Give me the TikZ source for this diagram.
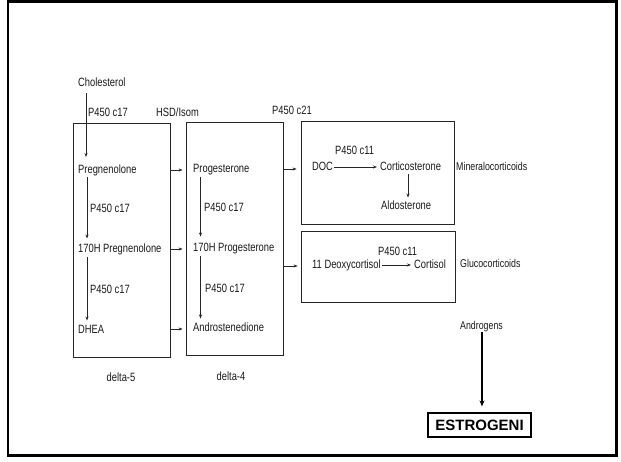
\documentclass[tikz,border=0pt]{standalone}
\usepackage{fontspec}
\setmainfont{Liberation Sans}[FakeStretch=0.78]
\newfontfamily\estrfont{Liberation Sans}
\usetikzlibrary{arrows.meta}
\tikzset{
  lbl/.style={anchor=west, inner sep=0pt, font=\fontsize{12}{13}\selectfont, text=black!90, text height=8.5pt, text depth=2pt},
  smalllbl/.style={lbl, font=\fontsize{11.3}{13}\selectfont},
  grp/.style={draw=black!85, line width=0.8pt, inner sep=0pt, fill=none},
  arr/.style={draw=black!85, line width=0.7pt, -{Stealth[length=4pt,width=3pt]}},
  bigarr/.style={draw=black, line width=1.6pt, -{Stealth[length=6pt,width=5pt]}},
}
\begin{document}
\begin{tikzpicture}[x=1pt,y=-1pt]
\useasboundingbox (0,0) rectangle (621,461);
\draw[line width=2.2pt] (8,1.5) rectangle (616.5,455.5);

% group boxes
\node[grp, minimum width=97pt, minimum height=234pt] (d5) at (121.5,240) {};
\node[grp, minimum width=97pt, minimum height=233pt] (d4) at (234.5,238.5) {};
\node[grp, minimum width=153pt, minimum height=103pt] (mb) at (377.5,172.5) {};
\node[grp, minimum width=154pt, minimum height=71pt] (gb) at (378,266.5) {};

% labels
\node[lbl] (chol) at (78,83) {Cholesterol};
\node[lbl] (e1) at (88,113) {P450 c17};
\node[lbl] (hsd) at (156,113) {HSD/Isom};
\node[lbl] (c21) at (272,111) {P450 c21};

\node[lbl] (preg) at (78,170) {Pregnenolone};
\node[lbl] (prog) at (193,169) {Progesterone};
\node[lbl] (e2) at (90,209) {P450 c17};
\node[lbl] (e3) at (204,208) {P450 c17};
\node[lbl] (ohpreg) at (78,249) {170H Pregnenolone};
\node[lbl] (ohprog) at (193,248) {170H Progesterone};
\node[lbl] (e4) at (90,290) {P450 c17};
\node[lbl] (e5) at (205,289) {P450 c17};
\node[lbl] (dhea) at (78,330) {DHEA};
\node[lbl] (andro) at (193,328) {Androstenedione};
\node[lbl, anchor=center] (dl5) at (121,378) {delta-5};
\node[lbl, anchor=center] (dl4) at (231,377) {delta-4};

\node[lbl] (doc) at (312,167) {DOC};
\node[lbl] (e6) at (335,151) {P450 c11};
\node[lbl] (cort) at (380,167) {Corticosterone};
\node[lbl] (aldo) at (381,206) {Aldosterone};
\node[smalllbl] (mineral) at (456,167) {Mineralocorticoids};

\node[lbl] (deoxy) at (312,265) {11 Deoxycortisol};
\node[lbl] (e7) at (378,252) {P450 c11};
\node[lbl] (cortisol) at (414,265) {Cortisol};
\node[smalllbl] (gluco) at (460,264) {Glucocorticoids};

\node[smalllbl] (androgens) at (460,326) {Androgens};
\node[draw=black, line width=1.2pt, minimum width=103pt, minimum height=24pt, inner sep=0pt,
      font=\estrfont\bfseries\fontsize{15}{16}\selectfont] (estro) at (479.5,425) {ESTROGENI};

% arrows
\coordinate (c1) at (86,93);
\coordinate (c2) at (86,157);
\draw[arr] (c1) -- (c2);
\draw[arr] ([xshift=9pt,yshift=-2pt]preg.south west) -- ([xshift=9pt,yshift=5pt]ohpreg.north west);
\draw[arr] ([xshift=9pt,yshift=-3pt]ohpreg.south west) -- ([xshift=9pt,yshift=4pt]dhea.north west);
\draw[arr] ([xshift=7.5pt,yshift=-3pt]prog.south west) -- ([xshift=7.5pt,yshift=6pt]ohprog.north west);
\draw[arr] ([xshift=7.5pt,yshift=-3pt]ohprog.south west) -- ([xshift=7.5pt,yshift=4pt]andro.north west);

\draw[arr, shorten <=1pt, shorten >=3pt] (preg -| d5.east) -- (preg -| d4.west);
\draw[arr, shorten <=1pt, shorten >=3pt] (ohpreg -| d5.east) -- (ohpreg -| d4.west);
\draw[arr, shorten <=1pt, shorten >=3pt] ([yshift=1pt]dhea -| d5.east) -- ([yshift=1pt]dhea -| d4.west);
\draw[arr, shorten <=1pt, shorten >=4pt] (prog -| d4.east) -- (prog -| mb.west);
\draw[arr, shorten <=1pt, shorten >=3pt] ([yshift=-1pt]deoxy -| d4.east) -- ([yshift=-1pt]deoxy -| gb.west);

\draw[arr, shorten <=1pt, shorten >=3pt] (doc.east) -- (cort.west);
\draw[arr] ([xshift=28pt,yshift=-2pt]cort.south west) -- ([xshift=27pt,yshift=3pt]aldo.north west);
\draw[arr, shorten <=1pt, shorten >=3pt] (deoxy.east) -- (cortisol.west);

\draw[bigarr] ([xshift=22pt,yshift=-1pt]androgens.south west) -- ([xshift=22pt,yshift=6pt]androgens.south west |- estro.north);
\end{tikzpicture}
\end{document}
